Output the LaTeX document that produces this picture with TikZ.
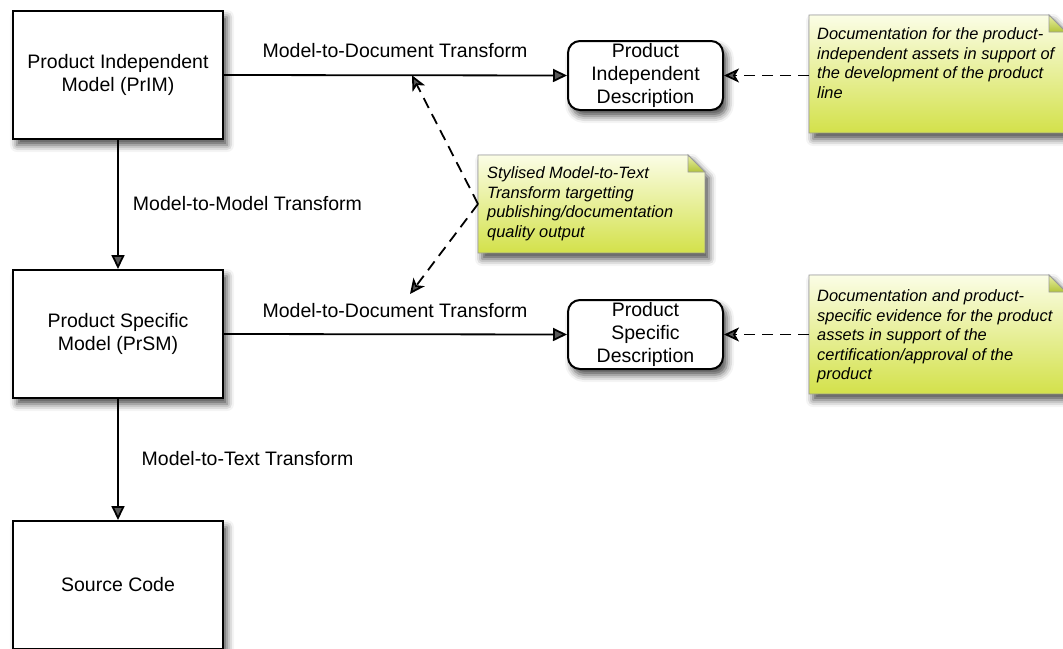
\documentclass[tikz,border=0pt]{standalone}
\usepackage{fontspec}
\setmainfont{Liberation Sans}
\usetikzlibrary{arrows.meta,calc,shadows.blur}

\definecolor{notetop}{HTML}{FBFDE6}
\definecolor{notebot}{HTML}{D3E14A}
\definecolor{foldtop}{HTML}{E9F0A8}
\definecolor{foldbot}{HTML}{B3C43A}
\definecolor{noteedge}{HTML}{9A9A9A}

\newcommand\dgmfont{\fontsize{19.5}{23}\selectfont}
\newcommand\dgmnotefont{\fontsize{16.4}{19.5}\selectfont\itshape}

% sticky note: shaded body with a folded top-right corner
\newcommand\drawnote[1]{%
  \path[boxshadow, top color=notetop, bottom color=notebot, draw=noteedge, line width=0.9pt]
    (#1.north west) -- ($(#1.north east)+(-17,0)$) -- ($(#1.north east)+(0,17)$)
    -- (#1.south east) -- (#1.south west) -- cycle;
  \path[top color=foldtop, bottom color=foldbot, draw=noteedge, line width=0.9pt]
    ($(#1.north east)+(-17,0)$) -- ($(#1.north east)+(-17,17)$)
    -- ($(#1.north east)+(0,17)$) -- cycle;
}

\tikzset{
  boxshadow/.style={blur shadow={shadow xshift=4pt, shadow yshift=-6pt,
      shadow blur radius=7pt, shadow opacity=70}},
  model/.style={draw=black, line width=2pt, fill=white, minimum width=210pt,
      minimum height=128pt, align=center, font=\dgmfont, boxshadow},
  descr/.style={draw=black, line width=2pt, fill=white, rounded corners=12pt,
      minimum width=155pt, minimum height=69pt, inner sep=0pt, align=center,
      font=\dgmfont, boxshadow},
  edgelabel/.style={font=\dgmfont, inner sep=0pt},
  notearea/.style={inner sep=0pt, outer sep=0pt},
  notetext/.style={anchor=north west, align=left, inner sep=0pt, font=\dgmnotefont},
  flow/.style={line width=1.8pt, -{Triangle[length=14pt,width=13pt]}},
  hint/.style={line width=1.8pt, dash pattern=on 11pt off 7pt,
      -{Stealth[length=15pt,width=14pt,inset=4pt]}},
}

\begin{document}
\begin{tikzpicture}[x=1pt,y=-1pt]
  \useasboundingbox (0,0) rectangle (1063,648);
  \clip (0,0) rectangle (1063,648);

  % model boxes
  \node[model] (prim) at (118,75)  {Product Independent\\Model (PrIM)};
  \node[model] (prsm) at (118,334) {Product Specific\\Model (PrSM)};
  \node[model] (src)  at (118,585) {Source Code};

  % description boxes
  \node[descr] (pid) at (645.5,75.5)  {Product\\Independent\\Description};
  \node[descr] (psd) at (645.5,334.5) {Product\\Specific\\Description};

  % notes
  \node[notearea, minimum width=257pt, minimum height=118pt] (n1) at (937.5,74) {};
  \node[notearea, minimum width=257pt, minimum height=119pt] (n2) at (937.5,334.5) {};
  \node[notearea, minimum width=227pt, minimum height=98pt]  (n3) at (591.5,204) {};
  \drawnote{n1}
  \drawnote{n2}
  \drawnote{n3}

  \node[notetext] (t1) at ($(n1.north west)+(8,12.5)$)
    {Documentation for the product-\\independent assets in support of\\the development of the product\\line};
  \node[notetext] (t2) at ($(n2.north west)+(8,14.5)$)
    {Documentation and product-\\specific evidence for the product\\assets in support of the\\certification/approval of the\\product};
  \node[notetext] (t3) at ($(n3.north west)+(9,11.5)$)
    {Stylised Model-to-Text\\Transform targetting\\publishing/documentation\\quality output};

  % transforms
  \draw[flow] (prim.east) -- coordinate[pos=0.548] (e1) (pid.west);
  \draw[flow] (prsm.east) -- (psd.west);
  \draw[flow] (prim.south) -- (prsm.north);
  \draw[flow] (prsm.south) -- (src.north);

  \node[edgelabel] (lab1) at (395,51)    {Model-to-Document Transform};
  \node[edgelabel] (lab2) at (395,311)   {Model-to-Document Transform};
  \node[edgelabel] (lab3) at (247.5,204) {Model-to-Model Transform};
  \node[edgelabel] (lab4) at (247.5,459) {Model-to-Text Transform};

  % annotation links
  \coordinate (e2) at (410,294);
  \draw[hint] (n3.west) -- (e1);
  \draw[hint] (n3.west) -- (e2);
  \draw[hint] (n1.west |- pid.east) -- (pid.east);
  \draw[hint] (n2.west |- psd.east) -- (psd.east);
\end{tikzpicture}
\end{document}
